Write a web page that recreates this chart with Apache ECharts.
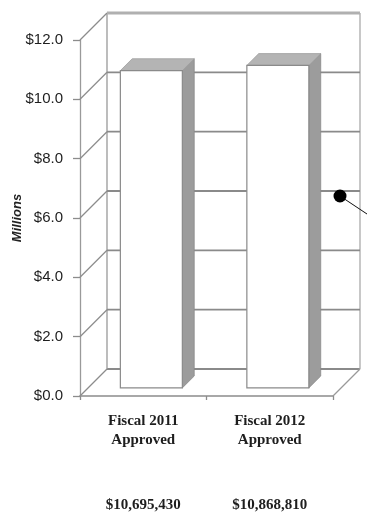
<!DOCTYPE html>
<html>
<head>
<meta charset="utf-8">
<script src="https://cdn.jsdelivr.net/npm/echarts@6/dist/echarts.min.js"></script>
<style>
html,body{margin:0;padding:0;background:#fff;}
#chart{width:367px;height:529px;}
</style>
</head>
<body>
<div id="chart"></div>
<script>
var categories = ['Fiscal 2011\nApproved', 'Fiscal 2012\nApproved'];
var values = [10.69543, 10.86881];           // millions of dollars
var yTicks = [0, 2, 4, 6, 8, 10, 12];
var amountLabels = values.map(function (v) {
  return '$' + Math.round(v * 1e6).toLocaleString('en-US');
});

var DX = 27, DY = -27;          // depth offset of back wall
var F1 = 0.3, F2 = 0.74;        // bar front / back depth fraction
var BAR_RATIO = 0.49;

var chart = echarts.init(document.getElementById('chart'));

function wallItem(params, api) {
  var cs = params.coordSys;
  var v = api.value(0);
  var py = api.coord([0, v])[1];
  var lx = cs.x, rx = cs.x + cs.width;
  var children = [];
  var isTop = v === yTicks[yTicks.length - 1];
  children.push({
    type: 'line',
    shape: { x1: lx, y1: py, x2: lx + DX, y2: py + DY },
    style: { stroke: '#8c8c8c', lineWidth: 1.3 }
  });
  children.push({
    type: 'line',
    shape: { x1: lx + DX, y1: py + DY, x2: rx + DX, y2: py + DY },
    style: { stroke: isTop ? '#b0b0b0' : '#8a8a8a', lineWidth: isTop ? 3 : 1.8 }
  });
  if (params.dataIndex === 0) {
    var topY = cs.y, botY = cs.y + cs.height;
    children.push({
      type: 'line',
      shape: { x1: lx + DX, y1: topY + DY, x2: lx + DX, y2: botY + DY },
      style: { stroke: '#999', lineWidth: 1.3 }
    });
    children.push({
      type: 'line',
      shape: { x1: rx + DX, y1: topY + DY, x2: rx + DX, y2: botY + DY },
      style: { stroke: '#aaa', lineWidth: 1.3 }
    });
    children.push({
      type: 'line',
      shape: { x1: rx, y1: botY, x2: rx + DX, y2: botY + DY },
      style: { stroke: '#999', lineWidth: 1.3 }
    });
  }
  return { type: 'group', children: children };
}

function barItem(params, api) {
  var idx = api.value(0);
  var val = api.value(1);
  var base = api.coord([idx, 0]);
  var top = api.coord([idx, val]);
  var bandW = api.size([1, 0])[0];
  var bw = bandW * BAR_RATIO;
  var x0 = base[0] - bw / 2 + F1 * DX;
  var yb = base[1] + F1 * DY;
  var yt = top[1] + F1 * DY;
  var ddx = (F2 - F1) * DX, ddy = (F2 - F1) * DY;
  return {
    type: 'group',
    children: [
      {
        type: 'polygon',
        shape: { points: [[x0 + bw, yt], [x0 + bw + ddx, yt + ddy], [x0 + bw + ddx, yb + ddy], [x0 + bw, yb]] },
        style: { fill: '#9c9c9c', stroke: '#8a8a8a', lineWidth: 0.8 }
      },
      {
        type: 'polygon',
        shape: { points: [[x0, yt], [x0 + bw, yt], [x0 + bw + ddx, yt + ddy], [x0 + ddx, yt + ddy]] },
        style: { fill: '#b4b4b4', stroke: '#a0a0a0', lineWidth: 0.8 }
      },
      {
        type: 'rect',
        shape: { x: x0, y: yt, width: bw, height: yb - yt },
        style: { fill: '#ffffff', stroke: '#8a8a8a', lineWidth: 1.2 }
      }
    ]
  };
}

var option = {
  backgroundColor: '#ffffff',
  animation: false,
  grid: { left: 80, right: 34, top: 40, bottom: 133, containLabel: false, outerBoundsMode: 'none' },
  xAxis: {
    type: 'category',
    data: categories,
    axisLine: { show: true, lineStyle: { color: '#8c8c8c', width: 1.6 } },
    axisTick: { show: true, length: 4, alignWithLabel: false, lineStyle: { color: '#8c8c8c', width: 1.3 } },
    axisLabel: {
      margin: 16,
      interval: 0,
      formatter: function (val, i) {
        return val.split('\n').map(function (s) { return '{c|' + s + '}'; }).join('\n') +
          '\n{v|' + amountLabels[i] + '}';
      },
      rich: {
        c: { fontFamily: 'Liberation Serif', fontWeight: 'bold', fontSize: 15, lineHeight: 19, color: '#1e1e1e' },
        v: { fontFamily: 'Liberation Serif', fontWeight: 'bold', fontSize: 15, lineHeight: 110, color: '#1e1e1e' }
      }
    },
    splitLine: { show: false }
  },
  yAxis: {
    type: 'value',
    min: 0, max: 12, interval: 2,
    name: 'Millions',
    nameLocation: 'middle',
    nameGap: 56,
    nameMoveOverlap: false,
    nameTextStyle: { fontFamily: 'Liberation Sans', fontStyle: 'italic', fontWeight: 'bold', fontSize: 13, color: '#222' },
    axisLine: { show: true, lineStyle: { color: '#9a9a9a', width: 1.3 } },
    axisTick: { show: true, length: 7, lineStyle: { color: '#8c8c8c', width: 1.3 } },
    axisLabel: {
      margin: 17,
      fontFamily: 'Liberation Sans', fontSize: 15, color: '#1e1e1e',
      formatter: function (v) { return '$' + v.toFixed(1); }
    },
    splitLine: { show: false }
  },
  graphic: [
    { type: 'line', shape: { x1: 340, y1: 196, x2: 367, y2: 214 }, style: { stroke: '#111', lineWidth: 1 }, z: 100 },
    { type: 'circle', shape: { cx: 340, cy: 196, r: 6.5 }, style: { fill: '#000' }, z: 101 }
  ],
  series: [
    {
      type: 'custom',
      renderItem: wallItem,
      data: yTicks.map(function (t) { return [t]; }),
      encode: { y: 0 },
      clip: false,
      silent: true,
      z: 1
    },
    {
      type: 'custom',
      renderItem: barItem,
      data: values.map(function (v, i) { return [i, v]; }),
      encode: { x: 0, y: 1 },
      clip: false,
      z: 5
    }
  ]
};
chart.setOption(option);
</script>
</body>
</html>
